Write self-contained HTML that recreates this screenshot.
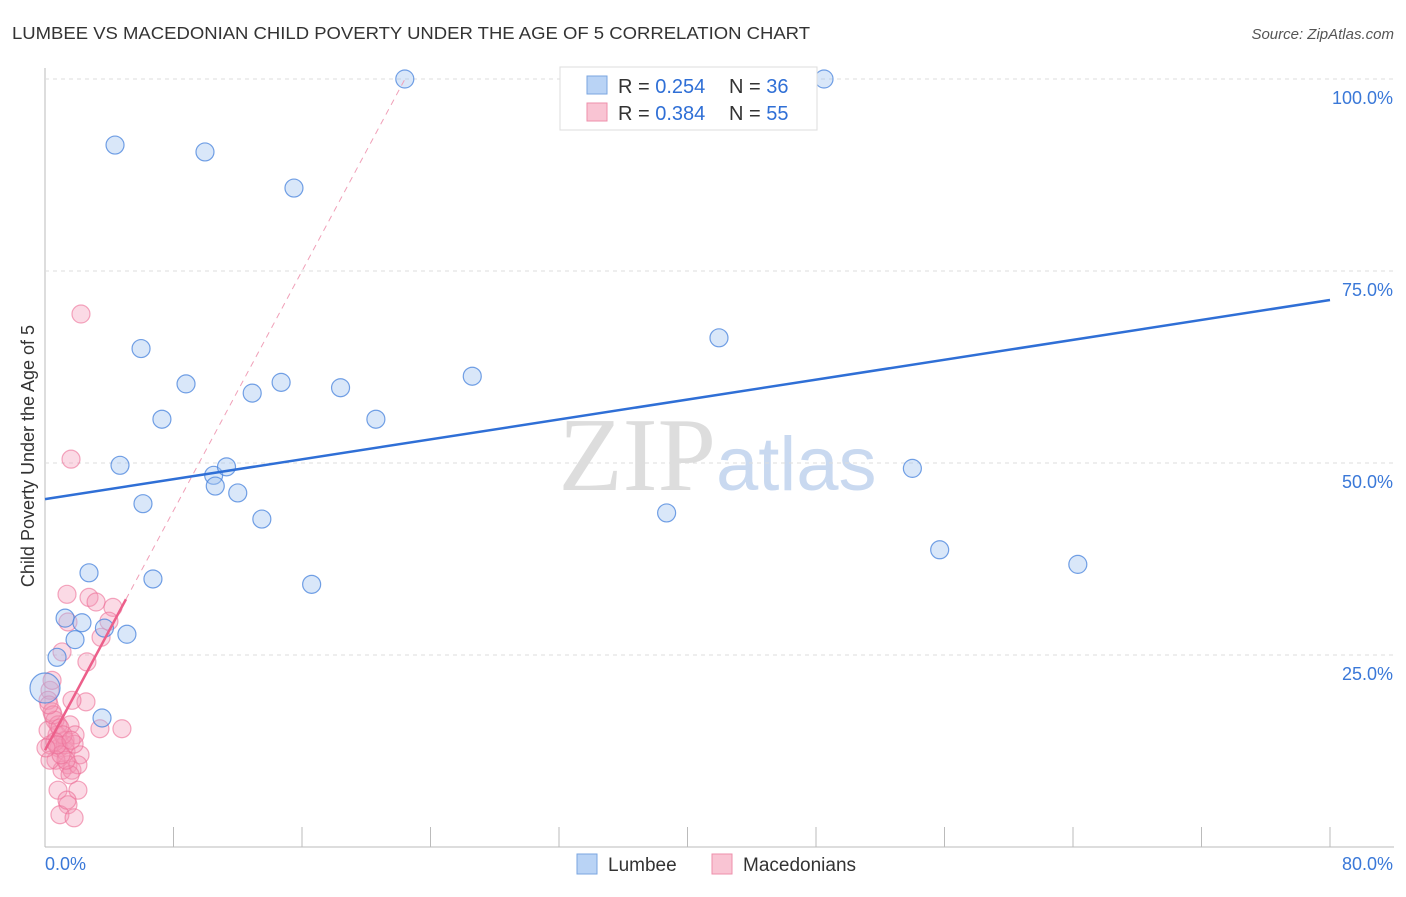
<!DOCTYPE html>
<html><head><meta charset="utf-8"><style>
body{margin:0;background:#fff;font-family:"Liberation Sans",sans-serif}
</style></head><body>
<svg id="c" width="1406" height="892" xmlns="http://www.w3.org/2000/svg" font-family="Liberation Sans, sans-serif">
<text x="12" y="39" font-size="17.5" fill="#333" textLength="798" lengthAdjust="spacingAndGlyphs">LUMBEE VS MACEDONIAN CHILD POVERTY UNDER THE AGE OF 5 CORRELATION CHART</text>
<text x="1394" y="39" font-size="15" fill="#555" font-style="italic" text-anchor="end">Source: ZipAtlas.com</text>
<text x="716" y="490" font-size="105" fill="#ddd" text-anchor="end" font-family="Liberation Serif, serif">ZIP</text>
<text x="716" y="490" font-size="76" fill="#c9d9f0">atlas</text>
<text transform="translate(34,456) rotate(-90)" font-size="18" fill="#333" text-anchor="middle">Child Poverty Under the Age of 5</text>
<g id="grid"></g><g id="marks"></g>
<g>
<rect x="560" y="67" width="257" height="63" fill="#fff" stroke="#ddd"/>
<rect x="587" y="76" width="20" height="18" fill="#b9d3f5" stroke="#7aa6e0"/>
<rect x="587" y="103" width="20" height="18" fill="#f9c4d3" stroke="#ee8fab"/>
<text x="618" y="93" font-size="20" fill="#333">R = <tspan fill="#2f6fd6">0.254</tspan></text>
<text x="729" y="93" font-size="20" fill="#333">N = <tspan fill="#2f6fd6">36</tspan></text>
<text x="618" y="120" font-size="20" fill="#333">R = <tspan fill="#2f6fd6">0.384</tspan></text>
<text x="729" y="120" font-size="20" fill="#333">N = <tspan fill="#2f6fd6">55</tspan></text>
</g>
<rect x="577" y="854" width="20" height="20" fill="#b9d3f5" stroke="#7aa6e0"/>
<text x="608" y="871" font-size="19" fill="#333">Lumbee</text>
<rect x="712" y="854" width="20" height="20" fill="#f9c4d3" stroke="#ee8fab"/>
<text x="743" y="871" font-size="19" fill="#333">Macedonians</text>
</svg>
<script>
const xTicks=[0,8,16,24,32,40,48,56,64,72,80];
const yTicks=[25,50,75,100];
const yTickLabels=["25.0%","50.0%","75.0%","100.0%"];
const lumbeeX=[22.4,48.5,4.36,9.96,15.5,5.98,41.96,8.78,12.9,14.7,18.4,26.6,7.28,20.6,4.67,10.5,11.3,10.6,12.0,54.0,6.1,13.5,38.7,55.7,64.3,2.74,6.72,16.6,1.25,2.3,1.87,5.1,0.75,3.55,0,3.7];
const lumbeeY=[100,100,91.4,90.5,85.8,64.9,66.3,60.3,59.1,60.5,59.8,61.3,55.7,55.7,49.7,48.4,49.5,47.0,46.1,49.3,44.7,42.7,43.5,38.7,36.8,35.7,34.9,34.2,29.8,29.2,27.0,27.7,24.7,16.8,20.7,28.5];
const macX=[2.24,1.62,1.37,2.74,3.18,4.23,3.98,1.43,3.49,2.61,1.06,0.31,0.19,0.44,2.55,1.68,1.56,3.42,4.79,0.62,0.75,1.25,1.87,0.87,0.31,1.31,2.18,1.43,0.68,1.06,1.68,2.05,1.56,1.25,0.81,0.19,0.5,0.93,1.81,1.12,0.62,0.31,0.81,1.43,0.93,1.81,2.05,1.37,0.44,0.25,1.31,1.0,0.75,1.62,0.06];
const macY=[69.4,50.5,32.9,32.5,31.9,31.2,29.4,29.3,27.3,24.1,25.4,20.4,19.1,17.6,18.9,19.1,15.9,15.4,15.4,16.5,14.6,13.9,14.6,12.9,13.3,12.4,12.0,10.7,11.3,10.0,10.0,10.7,9.4,13.3,15.9,15.2,17.2,15.5,13.4,14.6,13.7,11.3,7.4,5.5,4.2,3.8,7.4,6.1,21.7,18.5,11.3,12.0,13.3,13.9,12.9];
const lumbeeTrend=[45.3,0.324];
const macTrend=[12.6,3.9];
const NS="http://www.w3.org/2000/svg";
const X=v=>45+v*(1285/80), Y=v=>847-v*7.68;
function mk(t,a,p){const e=document.createElementNS(NS,t);for(const k in a)e.setAttribute(k,a[k]);p.appendChild(e);return e;}
const g=document.getElementById('grid'),m=document.getElementById('marks');
let ax=mk('line',{x1:45,y1:68,x2:45,y2:847,stroke:'#bbb'},g);


let bx=mk('line',{x1:45,y1:847,x2:1394,y2:847,stroke:'#bbb'},g);


yTicks.forEach((t,i)=>{
 let l=mk('line',{x1:45,y1:Y(t),x2:1394,y2:Y(t),stroke:'#ddd','stroke-dasharray':'4,4'},g);
 
 
 let tx=mk('text',{x:1393,y:Y(t)+25,'font-size':18,fill:'#3a78d8','text-anchor':'end'},g);tx.textContent=yTickLabels[i];
 
 
});
xTicks.forEach(t=>{
 let l=mk('line',{x1:X(t),y1:827,x2:X(t),y2:847,stroke:'#bbb'},g);
 
 
});
let x0=mk('text',{x:45,y:870,'font-size':18,fill:'#3a78d8'},g);x0.textContent='0.0%';


let x1=mk('text',{x:1393,y:870,'font-size':18,fill:'#3a78d8','text-anchor':'end'},g);x1.textContent='80.0%';


macX.forEach((v,i)=>{
 let c=mk('circle',{cx:X(v),cy:Y(macY[i]),r:9,fill:'rgba(244,150,180,0.35)',stroke:'rgba(236,110,150,0.6)','stroke-width':1.2},m);
 
 
});
lumbeeX.forEach((v,i)=>{
 let c=mk('circle',{cx:X(v),cy:Y(lumbeeY[i]),r:(v===0?15:9),fill:'rgba(160,195,240,0.4)',stroke:'rgba(70,130,220,0.75)','stroke-width':1.2},m);
 
 
});
let xEnd=(100-macTrend[0])/macTrend[1];
let pd=mk('line',{x1:X(5.04),y1:Y(macTrend[0]+macTrend[1]*5.04),x2:X(xEnd),y2:Y(100),stroke:'#f0a0b8','stroke-dasharray':'6,5'},m);


let pl=mk('line',{x1:X(0),y1:Y(macTrend[0]),x2:X(5.04),y2:Y(macTrend[0]+macTrend[1]*5.04),stroke:'#ec5f8a','stroke-width':2.5},m);


let bl=mk('line',{x1:X(0),y1:Y(lumbeeTrend[0]),x2:X(80),y2:Y(lumbeeTrend[0]+lumbeeTrend[1]*80),stroke:'#2f6fd6','stroke-width':2.5},m);


</script>
</body></html>
